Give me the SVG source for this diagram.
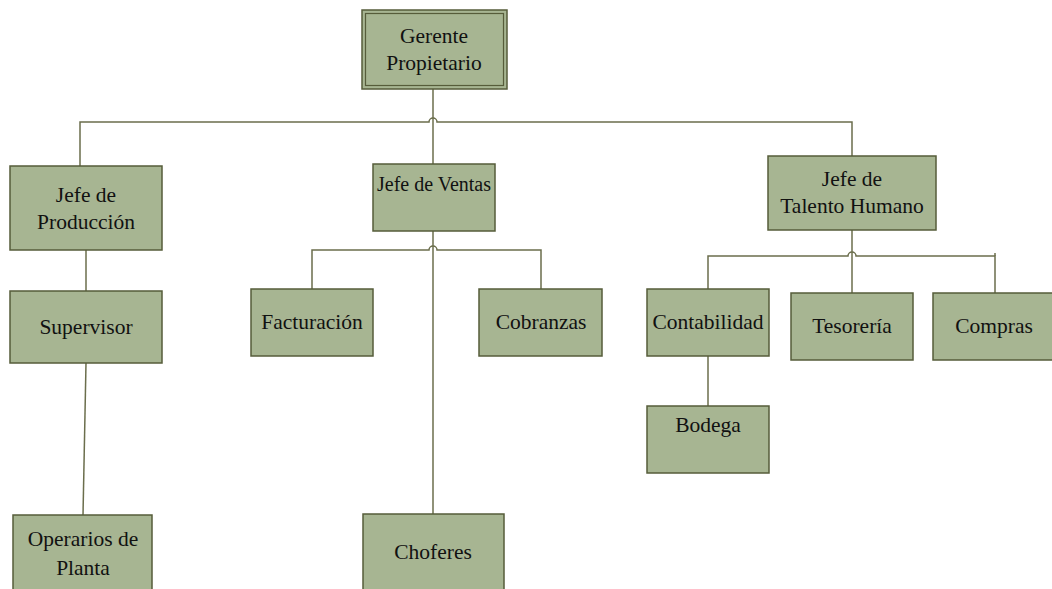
<svg xmlns="http://www.w3.org/2000/svg" width="1052" height="589" viewBox="0 0 1052 589">
  <style>
    .box { fill: #a7b592; stroke: #565c3a; stroke-width: 1.5; }
    .inner { fill: none; stroke: #565c3a; stroke-width: 1.2; }
    text { font-family: 'Liberation Serif', 'Tinos', 'Times New Roman', 'DejaVu Serif', serif; font-size: 21.5px; fill: #111; text-anchor: middle; }
    .sm { font-size: 20px; }
    .conn { fill: none; stroke: #6b6e4c; stroke-width: 1.5; }
  </style>
  <rect width="1052" height="589" fill="#ffffff"/>

  <!-- connectors -->
  <g id="connectors">
    <!-- Gerente to its three heads -->
    <path class="conn" d="M433 89 V164"/>
    <path class="conn" d="M80 166 V122 H429 A4 4 0 0 1 437 122 H852 V156"/>
    <!-- Producción chain -->
    <path class="conn" d="M86 250 V291"/>
    <path class="conn" d="M86 363 L83 515"/>
    <!-- Ventas branch -->
    <path class="conn" d="M433 231 V514"/>
    <path class="conn" d="M312 289 V250 H429 A4 4 0 0 1 437 250 H541 V289"/>
    <!-- Talento Humano branch -->
    <path class="conn" d="M852 230 V293"/>
    <path class="conn" d="M708 289 V256 H848 A4 4 0 0 1 856 256 H995 V293"/>
    <path class="conn" d="M995 256 V253"/>
    <path class="conn" d="M708 356 V406"/>
  </g>

  <g id="gerente">
    <rect class="box" x="362" y="10" width="145" height="79"/>
    <rect class="inner" x="365.5" y="13.5" width="138" height="72"/>
    <text x="434" y="43">Gerente</text>
    <text x="434" y="70">Propietario</text>
  </g>

  <g id="jefe-produccion">
    <rect class="box" x="10" y="166" width="152" height="84"/>
    <text x="86" y="202">Jefe de</text>
    <text x="86" y="229">Producción</text>
  </g>

  <g id="jefe-ventas">
    <rect class="box" x="373" y="164" width="122" height="67"/>
    <text class="sm" x="434" y="191">Jefe de Ventas</text>
  </g>

  <g id="jefe-talento">
    <rect class="box" x="768" y="156" width="168" height="74"/>
    <text x="852" y="186">Jefe de</text>
    <text x="852" y="213">Talento Humano</text>
  </g>

  <g id="supervisor">
    <rect class="box" x="10" y="291" width="152" height="72"/>
    <text x="86" y="334">Supervisor</text>
  </g>

  <g id="operarios">
    <rect class="box" x="13" y="515" width="139" height="80"/>
    <text x="83" y="546">Operarios de</text>
    <text x="83" y="575">Planta</text>
  </g>

  <g id="facturacion">
    <rect class="box" x="251" y="289" width="122" height="67"/>
    <text x="312" y="329">Facturación</text>
  </g>

  <g id="cobranzas">
    <rect class="box" x="479" y="289" width="123" height="67"/>
    <text x="541" y="329">Cobranzas</text>
  </g>

  <g id="choferes">
    <rect class="box" x="363" y="514" width="141" height="80"/>
    <text x="433" y="559">Choferes</text>
  </g>

  <g id="contabilidad">
    <rect class="box" x="647" y="289" width="122" height="67"/>
    <text x="708" y="329">Contabilidad</text>
  </g>

  <g id="tesoreria">
    <rect class="box" x="791" y="293" width="122" height="67"/>
    <text x="852" y="333">Tesorería</text>
  </g>

  <g id="compras">
    <rect class="box" x="933" y="293" width="125" height="67"/>
    <text x="994" y="333">Compras</text>
  </g>

  <g id="bodega">
    <rect class="box" x="647" y="406" width="122" height="67"/>
    <text x="708" y="432">Bodega</text>
  </g>
</svg>
